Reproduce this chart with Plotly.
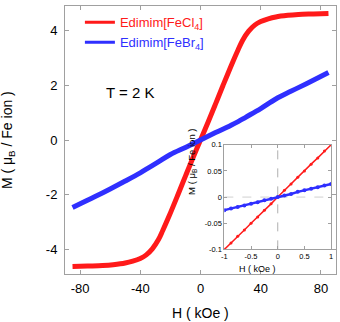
import plotly.graph_objects as go

# main panel: M(H) at T = 2 K
cl_h = [-85, -75, -65, -58, -50, -45, -40, -36, -32, -28, -25, -21, -15, -10, -5, 0,
        5, 10, 15, 21, 25, 28, 32, 36, 40, 45, 50, 58, 65, 75, 85]
cl_m = [-4.63, -4.61, -4.59, -4.56, -4.50, -4.43, -4.33, -4.20, -3.98, -3.65, -3.30, -2.80, -2.00, -1.32, -0.65, 0.0,
        0.65, 1.32, 2.00, 2.80, 3.30, 3.65, 3.98, 4.20, 4.33, 4.43, 4.50, 4.56, 4.59, 4.61, 4.63]

br_h = [-85, -70, -60, -50, -40, -34, -28, -20, -10, 0, 10, 20, 25, 30, 40, 50, 60, 70, 85]
br_m = [-2.47, -2.07, -1.79, -1.50, -1.20, -1.00, -0.80, -0.53, -0.27, 0.0,
        0.27, 0.53, 0.67, 0.83, 1.15, 1.50, 1.78, 2.05, 2.47]

# inset: low field region
in_h = [-1.0, -0.875, -0.75, -0.625, -0.5, -0.375, -0.25, -0.125, 0.0,
        0.125, 0.25, 0.375, 0.5, 0.625, 0.75, 0.875, 1.0]
in_cl = [-0.100, -0.088, -0.075, -0.063, -0.050, -0.038, -0.025, -0.013, 0.0,
         0.013, 0.025, 0.038, 0.050, 0.063, 0.075, 0.088, 0.100]
in_br = [-0.025, -0.022, -0.019, -0.016, -0.013, -0.010, -0.006, -0.003, 0.0,
         0.003, 0.006, 0.010, 0.013, 0.016, 0.019, 0.022, 0.025]

main_xticks = [-80, -40, 0, 40, 80]
main_yticks = [-4, -2, 0, 2, 4]
in_xticks = [-1, -0.5, 0, 0.5, 1]
in_xtext = ['-1', '-0.5', '0', '0.5', '1']
in_yticks = [-0.1, -0.05, 0, 0.05, 0.1]
in_ytext = ['-0.1', '-0.05', '0', '0.05', '0.1']

RED = '#ff1a1a'
BLUE = '#2f2fff'
FRAME = '#a0a0a0'
FONT = 'Liberation Sans, Arial, sans-serif'

fig = go.Figure()

fig.add_trace(go.Scatter(
    x=cl_h, y=cl_m, mode='lines', line=dict(color=RED, width=5, shape='spline'),
    showlegend=False))
fig.add_trace(go.Scatter(
    x=br_h, y=br_m, mode='lines', line=dict(color=BLUE, width=5, shape='spline'),
    showlegend=False))

# legend entries (thinner line samples than the curves)
fig.add_trace(go.Scatter(
    x=[None], y=[None], mode='lines', line=dict(color=RED, width=3),
    name='<span style="color:%s">Edimim[FeCl<sub>4</sub>]</span>' % RED))
fig.add_trace(go.Scatter(
    x=[None], y=[None], mode='lines', line=dict(color=BLUE, width=3),
    name='<span style="color:%s">Edimim[FeBr<sub>4</sub>]</span>' % BLUE))

fig.add_trace(go.Scatter(
    x=in_h, y=in_cl, mode='lines+markers', xaxis='x2', yaxis='y2', showlegend=False,
    line=dict(color=RED, width=1.5), marker=dict(color=RED, size=3)))
fig.add_trace(go.Scatter(
    x=in_h, y=in_br, mode='lines+markers', xaxis='x2', yaxis='y2', showlegend=False,
    line=dict(color=BLUE, width=2.5), marker=dict(color=BLUE, size=4)))

axis_common = dict(showline=True, linecolor=FRAME, linewidth=1, mirror='ticks',
                   ticks='inside', tickcolor=FRAME, showgrid=False, zeroline=False)

fig.update_layout(
    width=340, height=322,
    margin=dict(l=65, r=3, t=2, b=48),
    paper_bgcolor='white', plot_bgcolor='white',
    font=dict(family=FONT, color='black'),
    xaxis=dict(range=[-90, 90], tickvals=main_xticks, ticktext=[str(v) for v in main_xticks],
               ticklen=4, tickfont=dict(size=13), ticklabelstandoff=2, **axis_common),
    yaxis=dict(range=[-4.9, 4.9], tickvals=main_yticks, ticktext=[str(v) for v in main_yticks],
               ticklen=4, tickfont=dict(size=13), ticklabelstandoff=4, **axis_common),
    xaxis2=dict(domain=[0.588, 0.982], anchor='y2', range=[-1, 1], tickvals=in_xticks,
                ticktext=in_xtext, ticklen=3, tickfont=dict(size=7.5), **axis_common),
    yaxis2=dict(domain=[0.092, 0.482], anchor='x2', range=[-0.1, 0.1], tickvals=in_yticks,
                ticktext=in_ytext, ticklen=3, tickfont=dict(size=7.5), **axis_common),
    legend=dict(x=0.055, y=0.995, xanchor='left', yanchor='top', bgcolor='rgba(0,0,0,0)',
                font=dict(size=13), tracegroupgap=0, itemwidth=30),
    showlegend=True,
)

# dashed zero lines in the inset
fig.add_shape(type='line', xref='x2', yref='y2', x0=0, x1=0, y0=-0.1, y1=0.1,
              line=dict(color='#b0b0b0', width=1, dash='dash'), layer='below')
fig.add_shape(type='line', xref='x2', yref='y2', x0=-1, x1=1, y0=0, y1=0,
              line=dict(color='#d0d0d0', width=1, dash='dash'), layer='below')

fig.add_annotation(x=-64, y=1.73, xref='x', yref='y', text='T = 2 K', showarrow=False,
                   xanchor='left', font=dict(size=15))
fig.add_annotation(x=0.5, y=-0.145, xref='paper', yref='paper', text='H ( kOe )',
                   showarrow=False, font=dict(size=14), yanchor='middle')
fig.add_annotation(x=-0.21, y=0.5, xref='paper', yref='paper',
                   text='M ( \u03bc<sub>B</sub> / Fe ion )', textangle=-90,
                   showarrow=False, font=dict(size=14), xanchor='center')
fig.add_annotation(x=0.785, y=0.018, xref='paper', yref='paper', text='H ( kOe )',
                   showarrow=False, font=dict(size=9), yanchor='middle')
fig.add_annotation(x=0.468, y=0.287, xref='paper', yref='paper',
                   text='M ( \u03bc<sub>B</sub> / Fe ion )', textangle=-90,
                   showarrow=False, font=dict(size=9.5), xanchor='center')

# the page body has a default 8px margin; drop it so the figure fills the window
fig.write_html("out.html", config={'displayModeBar': False},
               post_script="document.body.style.margin='0';")
